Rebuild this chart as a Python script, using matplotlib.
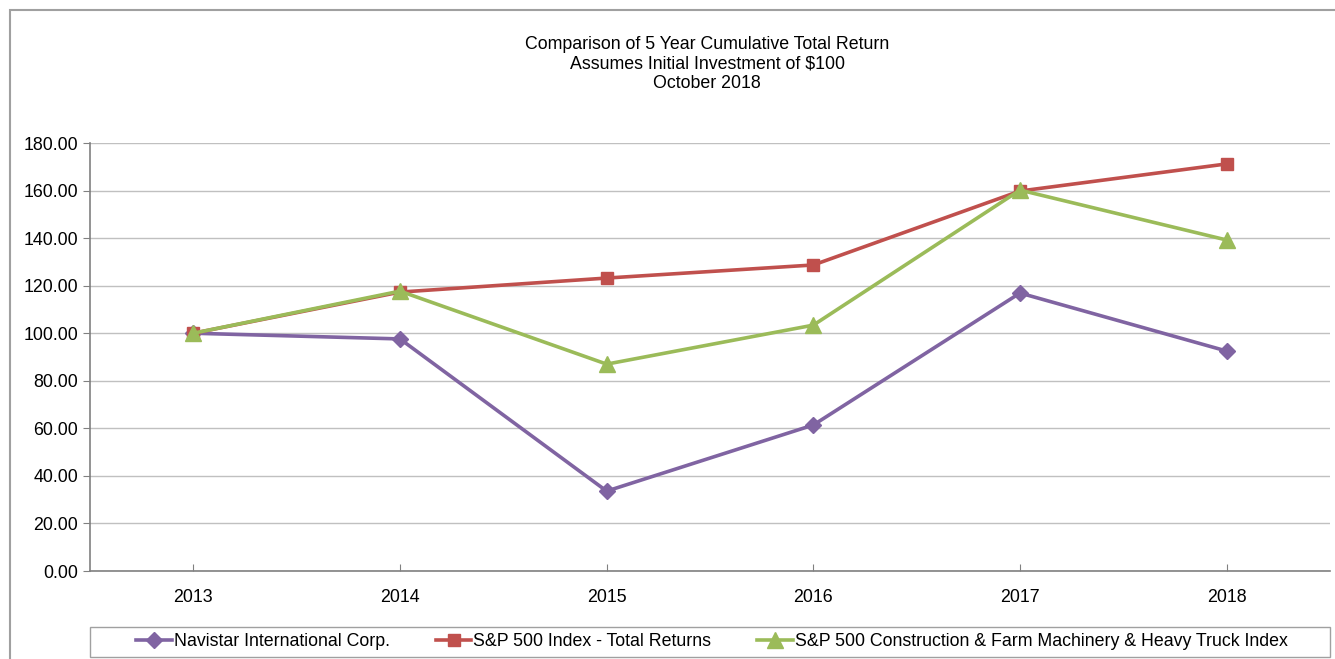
import matplotlib.pyplot as plt
from matplotlib.patches import Rectangle

plt.rcParams['font.family'] = ['Liberation Sans', 'DejaVu Sans']

years = ['2013', '2014', '2015', '2016', '2017', '2018']
navistar = [100.0, 97.6, 33.6, 61.4, 116.9, 92.5]
sp500 = [100.0, 117.3, 123.2, 128.7, 159.8, 171.2]
machinery = [100.0, 117.7, 87.0, 103.4, 160.2, 139.2]

fs = 12.8
fig = plt.figure(figsize=(13.35, 6.59), dpi=100)
ax = fig.add_axes([90 / 1335, 1 - 571 / 659, 1240 / 1335, 428 / 659])

# outer frame (only top and left edge are visible in the reference)
fig.patches.append(Rectangle((10 / 1335, -0.1), 1.2, 1 - 10 / 659 + 0.1,
                             transform=fig.transFigure, fill=False,
                             edgecolor='#A0A0A0', linewidth=1.5))
# legend box spanning the plot width
fig.patches.append(Rectangle((90 / 1335, 1 - 657 / 659), 1240 / 1335, 30 / 659,
                             transform=fig.transFigure, fill=False,
                             edgecolor='#A0A0A0', linewidth=1))

x = range(len(years))
ax.plot(x, navistar, color='#8064A2', lw=2.6, marker='D', ms=8,
        label='Navistar International Corp.')
ax.plot(x, sp500, color='#C0504D', lw=2.6, marker='s', ms=9,
        label='S&P 500 Index - Total Returns')
ax.plot(x, machinery, color='#9BBB59', lw=2.6, marker='^', ms=11,
        label='S&P 500 Construction & Farm Machinery & Heavy Truck Index')

ax.set_xlim(-0.5, 5.5)
ax.set_ylim(0, 180)
ax.set_yticks(range(0, 181, 20))
ax.set_yticklabels(['%.2f' % v for v in range(0, 181, 20)], fontsize=fs)
ax.set_xticks(list(x))
ax.set_xticklabels(years, fontsize=fs)
ax.tick_params(axis='x', direction='in', length=5, pad=13, color='#808080')
ax.tick_params(axis='y', length=5, color='#808080')
ax.grid(axis='y', color='#C0C0C0', lw=1)
ax.set_axisbelow(True)
for s in ['top', 'right']:
    ax.spines[s].set_visible(False)
for s in ['left', 'bottom']:
    ax.spines[s].set_color('#808080')
    ax.spines[s].set_linewidth(1.2)

fig.text(707 / 1335, 1 - 64 / 659, 'Comparison of 5 Year Cumulative Total Return\n'
         'Assumes Initial Investment of $100\nOctober 2018',
         ha='center', va='center', fontsize=fs, linespacing=1.18)

fig.legend(loc='center', bbox_to_anchor=(712 / 1335, 1 - 642 / 659),
           ncol=3, fontsize=fs, frameon=False,
           handlelength=2.0, handletextpad=0.1, columnspacing=2.6)

fig.savefig('out.png', dpi=100)
